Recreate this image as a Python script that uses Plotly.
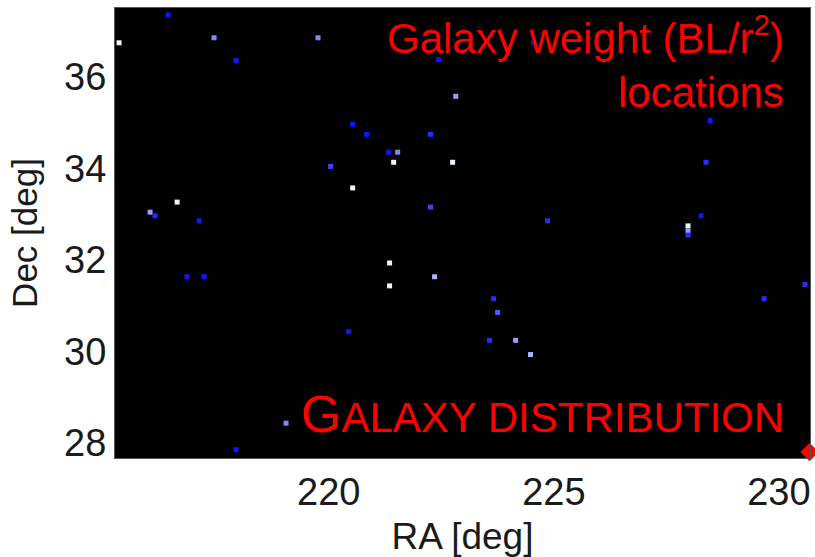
import plotly.graph_objects as go

# Galaxy positions (RA, Dec in degrees) and relative weight class
ra = [216.43, 215.34, 217.45, 219.76, 217.94, 220.53, 220.84, 221.33, 221.53,
      221.44, 220.04, 220.53, 216.63, 216.03, 216.14, 217.12, 222.44, 224.55,
      222.82, 222.26, 222.75, 228.47, 228.38, 222.26, 224.86, 228.27, 227.98,
      227.98, 227.98, 221.35, 221.35, 216.85, 217.23, 222.35, 220.44, 219.05,
      217.94, 223.66, 223.75, 229.67, 230.58, 223.57, 224.15, 224.48]
dec = [37.35, 36.74, 36.85, 36.85, 36.35, 34.96, 34.74, 34.35, 34.35,
       34.13, 34.04, 33.57, 33.26, 33.04, 32.96, 32.85, 36.37, 36.74,
       35.57, 34.74, 34.13, 35.04, 34.13, 33.15, 32.85, 32.96, 32.74,
       32.63, 32.54, 31.93, 31.43, 31.63, 31.63, 31.63, 30.43, 28.43,
       27.85, 31.15, 30.85, 31.15, 31.46, 30.24, 30.24, 29.93]
weight = [0.0, 1.0, 0.5, 0.5, 0.0, 0.0, 0.0, 0.0, 0.5,
          1.0, 0.2, 1.0, 1.0, 0.6, 0.1, 0.0, 0.0, 0.0,
          0.6, 0.1, 1.0, 0.0, 0.1, 0.2, 0.1, 0.0, 1.0,
          0.6, 0.1, 1.0, 1.0, 0.0, 0.0, 0.7, 0.0, 0.5,
          0.0, 0.1, 0.3, 0.1, 0.1, 0.1, 0.6, 0.7]

x_ticks = [220, 225, 230]
y_ticks = [28, 30, 32, 34, 36]

# Corner pointer position
pointer_ra = [230.68]
pointer_dec = [27.8]

fig = go.Figure()

fig.add_trace(go.Scatter(
    x=ra, y=dec, mode="markers",
    marker=dict(
        symbol="square", size=5, color=weight,
        colorscale=[[0, "#1414ff"], [0.5, "#8484ff"], [1, "#f2f2ff"]],
        cmin=0, cmax=1, line=dict(width=0),
    ),
    showlegend=False, hoverinfo="x+y",
))

# Red pointer marker at the lower right corner
fig.add_trace(go.Scatter(
    x=pointer_ra, y=pointer_dec, mode="markers",
    marker=dict(symbol="square", size=13, color="#ff0000",
                angle=45, line=dict(width=0)),
    cliponaxis=False, showlegend=False, hoverinfo="skip",
))

red = "#ff0000"
label_font = dict(family="Liberation Sans, Arial", size=42, color=red)
x_right = (787 - 115) / 696
fig.add_annotation(
    text="Galaxy weight (BL/r<sup>2</sup>)", xref="paper", yref="paper",
    x=x_right, y=(460 - 64) / 452, xanchor="right", yanchor="bottom",
    showarrow=False, font=label_font,
)
fig.add_annotation(
    text="locations", xref="paper", yref="paper",
    x=x_right, y=(460 - 118) / 452, xanchor="right", yanchor="bottom",
    showarrow=False, font=label_font,
)
fig.add_annotation(
    text="<span style='font-size:52px'>G</span>ALAXY DISTRIBUTION",
    xref="paper", yref="paper",
    x=x_right, y=(460 - 447) / 452, xanchor="right", yanchor="bottom",
    showarrow=False, font=dict(family="Liberation Sans, Arial", size=42, color=red),
)

axis_font = dict(family="Liberation Sans, Arial", size=38, color="#1a1a1a")
fig.update_layout(
    width=815, height=557,
    margin=dict(l=115, r=4, t=8, b=97),
    paper_bgcolor="white", plot_bgcolor="black",
    xaxis=dict(
        range=[215.25, 230.69], tickvals=x_ticks, ticks="", showgrid=False,
        zeroline=False, tickfont=axis_font,
        title=dict(text="RA [deg]", font=dict(family="Liberation Sans, Arial", size=37, color="#1a1a1a")),
        showline=True, linecolor="#555", mirror=True,
    ),
    yaxis=dict(
        range=[27.67, 37.5], tickvals=y_ticks, ticks="", showgrid=False,
        zeroline=False, tickfont=axis_font,
        title=dict(text="Dec [deg]", font=dict(family="Liberation Sans, Arial", size=35, color="#1a1a1a")),
        showline=True, linecolor="#555", mirror=True,
    ),
)

fig.write_html("out.html")
